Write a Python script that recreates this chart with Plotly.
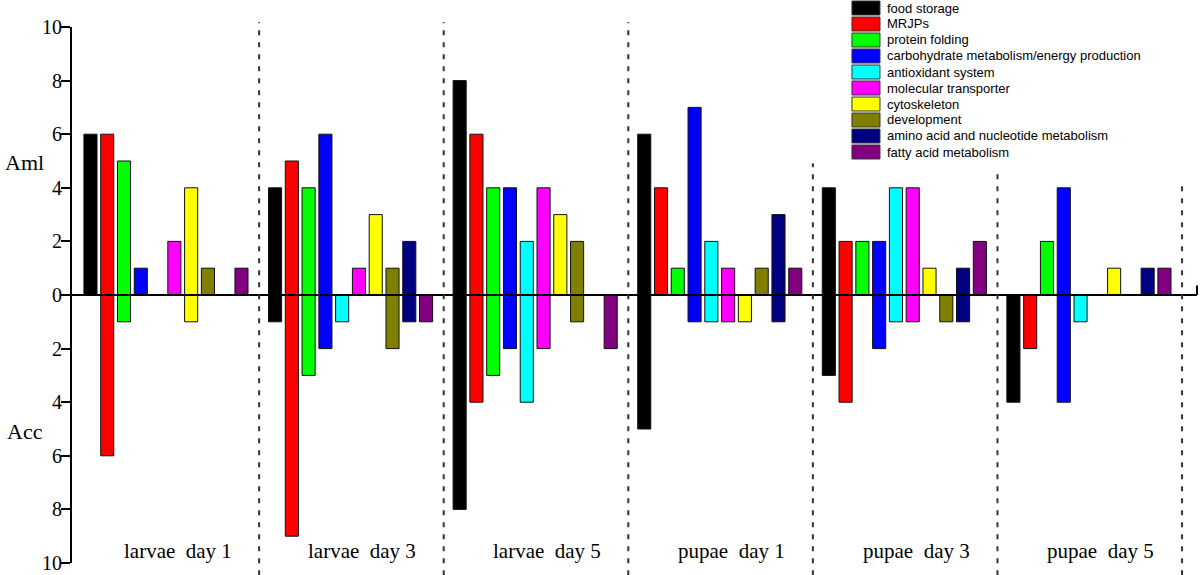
import plotly.graph_objects as go

categories = ["food storage", "MRJPs", "protein folding",
              "carbohydrate metabolism/energy production", "antioxidant system",
              "molecular transporter", "cytoskeleton", "development",
              "amino acid and nucleotide metabolism", "fatty acid metabolism"]
colors = ["#000000", "#FF0000", "#00FF00", "#0000FF", "#00FFFF",
          "#FF00FF", "#FFFF00", "#808000", "#000080", "#800080"]
groups = ["larvae  day 1", "larvae  day 3", "larvae  day 5",
          "pupae  day 1", "pupae  day 3", "pupae  day 5"]

# Aml (upward) counts per stage, in category order
aml_larvae_day1 = [6, 6, 5, 1, 0, 2, 4, 1, 0, 1]
aml_larvae_day3 = [4, 5, 4, 6, 0, 1, 3, 1, 2, 0]
aml_larvae_day5 = [8, 6, 4, 4, 2, 4, 3, 2, 0, 0]
aml_pupae_day1 = [6, 4, 1, 7, 2, 1, 0, 1, 3, 1]
aml_pupae_day3 = [4, 2, 2, 2, 4, 4, 1, 0, 1, 2]
aml_pupae_day5 = [0, 0, 2, 4, 0, 0, 1, 0, 1, 1]

# Acc (downward) counts per stage, in category order
acc_larvae_day1 = [0, 6, 1, 0, 0, 0, 1, 0, 0, 0]
acc_larvae_day3 = [1, 9, 3, 2, 1, 0, 0, 2, 1, 1]
acc_larvae_day5 = [8, 4, 3, 2, 4, 2, 0, 1, 0, 2]
acc_pupae_day1 = [5, 0, 0, 1, 1, 1, 1, 0, 1, 0]
acc_pupae_day3 = [3, 4, 0, 2, 1, 1, 0, 1, 1, 0]
acc_pupae_day5 = [4, 2, 0, 4, 1, 0, 0, 0, 0, 0]

y_ticks = [-10, -8, -6, -4, -2, 0, 2, 4, 6, 8, 10]

aml_groups = [aml_larvae_day1, aml_larvae_day3, aml_larvae_day5,
              aml_pupae_day1, aml_pupae_day3, aml_pupae_day5]
acc_groups = [acc_larvae_day1, acc_larvae_day3, acc_larvae_day5,
              acc_pupae_day1, acc_pupae_day3, acc_pupae_day5]

SLOTS = 11  # 10 categories + 1 gap per stage
fig = go.Figure()
for i, (cat, col) in enumerate(zip(categories, colors)):
    xs = [g * SLOTS + i for g in range(len(groups))]
    up = [v[i] if v[i] else None for v in aml_groups]
    dn = [-v[i] if v[i] else None for v in acc_groups]
    for ys in (up, dn):
        fig.add_trace(go.Bar(x=xs, y=ys, marker=dict(color=col, line=dict(color="#111111", width=1)),
                             width=0.78, name=cat, showlegend=False))

serif = "Liberation Serif, Times New Roman, serif"
shapes = []
annotations = []
# zero line
shapes.append(dict(type="line", xref="paper", yref="y", x0=0, x1=1, y0=0, y1=0,
                   line=dict(color="black", width=2), layer="above"))
shapes.append(dict(type="line", xref="paper", yref="y", x0=1, x1=1, y0=0, y1=0.35,
                   line=dict(color="black", width=2), layer="above"))
# dashed stage dividers
div_tops = [1.009, 1.009, 1.009, 0.746, 0.729, 0.7146]
for g in range(len(groups)):
    shapes.append(dict(type="line", xref="x", yref="paper", x0=g * SLOTS + 10.05, x1=g * SLOTS + 10.05,
                       y0=-0.023, y1=div_tops[g], line=dict(color="#333333", width=2, dash="5px,7px"),
                       layer="above"))
    annotations.append(dict(x=g * SLOTS + 5.2, y=-9.55, xref="x", yref="y", text=groups[g],
                            showarrow=False, xanchor="center", yanchor="middle",
                            font=dict(family=serif, size=21, color="black")))

annotations.append(dict(x=-0.042, y=4.93, xref="paper", yref="y", text="Aml", showarrow=False,
                        xanchor="center", yanchor="middle",
                        font=dict(family=serif, size=22, color="black")))
annotations.append(dict(x=-0.042, y=-5.1, xref="paper", yref="y", text="Acc", showarrow=False,
                        xanchor="center", yanchor="middle",
                        font=dict(family=serif, size=22, color="black")))

# custom legend (wide colour boxes)
plot_bottom = 563.0
plot_h = 536.0
for i, (cat, col) in enumerate(zip(categories, colors)):
    cy = 8 + 16 * i
    y0 = (plot_bottom - (cy + 7)) / plot_h
    y1 = (plot_bottom - (cy - 7)) / plot_h
    shapes.append(dict(type="rect", xref="paper", yref="paper", x0=0.6933, x1=0.7182, y0=y0, y1=y1,
                       fillcolor=col, line=dict(color="#333333", width=1)))
    annotations.append(dict(x=0.7225, y=(plot_bottom - cy) / plot_h, xref="paper", yref="paper", text=cat,
                            showarrow=False, xanchor="left", yanchor="middle",
                            font=dict(family="Liberation Sans, Arial, sans-serif", size=13, color="black")))

fig.update_layout(
    width=1200, height=575,
    margin=dict(l=72, r=3, t=27, b=12),
    paper_bgcolor="white", plot_bgcolor="white",
    barmode="overlay", showlegend=False,
    shapes=shapes, annotations=annotations,
    xaxis=dict(range=[-1.1, 65.94], visible=False, fixedrange=True),
    yaxis=dict(range=[-10, 10], tickvals=y_ticks, ticktext=[str(abs(v)) for v in y_ticks],
               showgrid=False, zeroline=False, showline=True, linecolor="black", linewidth=2,
               ticks="outside", ticklen=9, tickwidth=2, tickcolor="black", ticklabelstandoff=-5,
               ticklabeloverflow="allow", automargin=False,
               tickfont=dict(family=serif, size=20, color="black"), fixedrange=True),
)

fig.write_html("out.html", config={"displayModeBar": False},
               post_script="document.body.style.margin='0px';document.body.style.overflow='hidden';")
